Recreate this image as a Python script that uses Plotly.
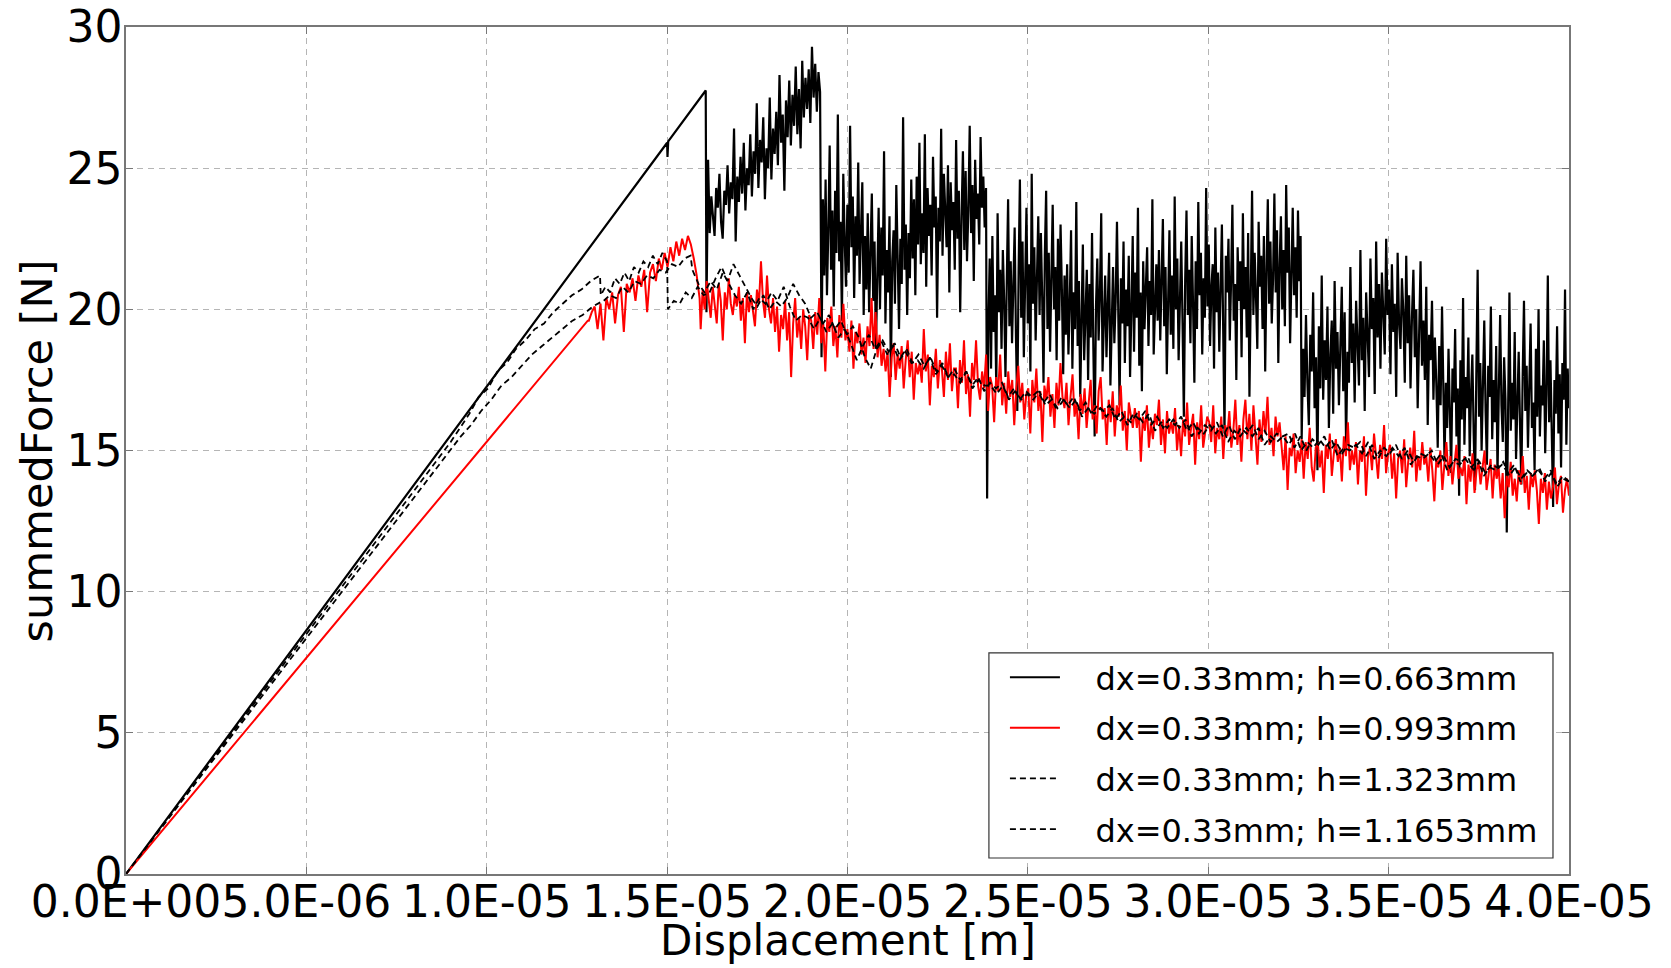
import numpy as np
import plotly.graph_objects as go

# ---------------- data ----------------
series_names = ["dx=0.33mm; h=0.663mm", "dx=0.33mm; h=0.993mm",
                "dx=0.33mm; h=1.323mm", "dx=0.33mm; h=1.1653mm"]

x_tickvals = [0, 5e-6, 1e-5, 1.5e-5, 2e-5, 2.5e-5, 3e-5, 3.5e-5, 4e-5]
x_ticktext = ["0.0E+00", "5.0E-06", "1.0E-05", "1.5E-05", "2.0E-05",
              "2.5E-05", "3.0E-05", "3.5E-05", "4.0E-05"]
y_tickvals = [0, 5, 10, 15, 20, 25, 30]

# h=0.663mm : elastic rise (displacement / force)
blk_rise_x = [0, 1.500e-5, 1.501e-5, 1.503e-5, 1.607e-5]
blk_rise_f = [0, 25.9, 25.4, 25.95, 27.75]
# noisy segments: (start displacement, end displacement) and force readings
blk_B_span = (1.609e-5, 1.924e-5)
blk_B = [19.9, 25.3, 22.7, 24.0, 23.3, 22.6, 24.3, 23.6, 24.8, 23.1, 22.5, 24.2, 23.7, 25.1,
         23.4, 24.5, 23.9, 26.4, 22.4, 24.7, 23.8, 25.4, 24.1, 25.9, 23.5, 25.0, 24.4, 26.2,
         24.0, 25.6, 24.8, 27.3, 24.3, 26.0, 25.2, 26.8, 23.9, 25.7, 25.0, 27.5, 24.6, 26.4,
         25.5, 27.0, 25.1, 28.3, 25.9, 26.9, 24.2, 27.4, 26.1, 28.1, 25.8, 27.6, 26.5, 28.6,
         26.2, 27.8, 25.7, 28.8, 26.8, 28.2, 27.1, 28.5, 26.6, 29.3, 27.5, 28.7, 27.0, 28.4,
         27.7]
blk_C_span = (1.928e-5, 2.384e-5)
blk_C = [18.3, 23.9, 21.2, 24.6, 20.5, 22.8, 25.8, 21.4, 23.5, 20.1, 24.2, 22.0, 26.9, 21.7,
         23.1, 19.6, 24.8, 22.5, 20.8, 23.7, 21.3, 26.5, 22.2, 24.0, 20.4, 23.3, 21.9, 25.2,
         20.9, 22.7, 24.5, 19.8,
         22.6, 20.7, 23.4, 19.9, 21.8, 24.1, 20.3, 22.4, 18.6, 21.5, 23.6, 20.0, 22.9, 21.2,
         25.6, 19.5, 22.1, 20.6, 23.3, 17.6, 21.7, 22.8, 20.2, 24.4, 21.0, 19.3, 22.5, 20.9,
         26.8, 21.4, 23.0, 19.8, 22.7, 21.1, 24.6,
         21.8, 23.9, 20.5, 24.7, 22.3, 25.9, 21.6, 23.4, 22.0, 26.2, 20.8, 24.3, 22.6, 23.7,
         21.2, 25.4, 22.9, 24.0, 19.7, 23.6, 22.4, 26.4, 21.9, 24.8, 23.1, 22.2, 25.1, 20.6,
         24.5, 22.8, 23.8, 21.4, 26.0, 22.5, 24.2, 19.9, 23.3, 25.6, 22.1, 24.9, 21.7, 23.5,
         26.5, 22.7, 24.4, 21.0, 25.3, 23.2, 24.1, 22.3, 26.1, 23.6, 24.7, 22.9, 24.3]
blk_D_span = (2.387e-5, 3.256e-5)
blk_D = [13.3, 19.6, 21.8, 17.9, 22.6, 19.2, 20.5, 17.2, 23.4, 19.9, 21.4, 18.6, 22.1, 20.3,
         17.6, 21.0, 23.9, 19.4, 21.7, 18.8, 20.6, 22.9, 19.0, 16.4, 21.3, 24.6, 19.7, 22.4,
         18.3, 20.9, 23.6, 19.5, 21.6, 17.8, 24.8, 20.2, 22.2, 18.9, 21.1, 23.3, 19.8, 22.7,
         20.4, 17.4, 21.9, 24.2, 19.3, 22.0, 18.5, 20.8, 23.7, 20.0, 21.5, 18.2, 22.5, 19.6,
         23.0, 20.7, 17.7, 21.2,
         19.1, 21.6, 18.4, 20.2, 22.8, 17.9, 20.6, 19.3, 23.8, 18.7, 21.0, 16.9, 20.4, 22.3,
         18.2, 19.8, 21.4, 17.5, 20.9, 19.0, 22.7, 18.6, 15.5, 20.1, 21.8, 18.9, 20.5, 23.4,
         17.8, 19.6, 21.2, 18.3, 20.8, 22.0, 17.3, 19.9, 21.5, 18.8, 20.3, 23.1, 19.2, 16.6,
         21.1, 19.5, 22.4, 18.1, 20.7, 19.4, 21.9, 17.6, 20.0, 22.6, 18.5, 21.3, 19.7, 23.6,
         18.0, 20.6, 17.1, 21.7, 19.3, 20.9, 22.2, 18.7, 21.0, 19.8, 23.9, 18.4, 20.4, 21.6,
         19.6, 22.1, 18.9, 20.7, 23.2, 19.4, 21.5, 17.7, 20.3, 22.8, 19.1, 21.2, 18.6, 24.0,
         20.0, 21.8, 18.2, 20.6, 22.4, 19.5, 16.2, 21.0, 23.5, 19.8, 21.4, 18.8, 22.6, 20.2,
         17.4, 21.7, 19.3, 23.8, 20.5, 22.0, 18.4, 21.1, 19.7, 24.3, 20.1, 22.3, 18.7, 20.8,
         21.6, 17.9, 22.9, 19.9, 21.3, 18.5, 20.4, 23.0, 19.2, 15.6, 21.9, 20.6, 22.5, 18.9,
         21.0, 23.7, 19.6, 20.9, 17.5, 22.2, 20.3, 21.7, 18.3, 23.4, 20.0, 21.5, 19.0, 22.7,
         16.9, 21.2, 24.2, 19.8, 22.0, 20.4, 18.6, 23.1, 20.8, 21.9, 19.3, 22.6, 17.8, 21.4,
         23.9, 20.2, 22.4, 19.5, 21.1, 24.1, 20.6, 22.8, 18.1, 21.6, 23.3, 20.0, 22.1, 19.4,
         24.4, 21.3, 22.9, 18.8, 21.8, 23.6, 20.5, 22.2, 19.7, 23.5, 21.0, 22.6]
blk_E_span = (3.259e-5, 3.652e-5)
blk_E = [15.4, 18.6, 16.9, 19.8, 17.4, 15.9, 19.1, 17.8, 20.6, 16.5, 18.3, 14.3, 19.4, 17.2,
         21.2, 16.8, 18.9, 17.5, 20.1, 15.8, 18.4, 19.6, 16.3, 21.0, 17.9, 19.2, 16.6, 18.7,
         20.8, 17.1, 19.9, 15.2, 18.5, 17.4, 21.5, 18.1, 19.5, 16.7, 20.3, 18.8, 17.3, 22.1,
         18.2, 19.7, 16.4, 20.6, 18.9, 17.6, 21.8, 19.3, 20.4, 17.0, 22.4, 19.0, 20.9, 17.9,
         21.3, 19.6, 18.4, 22.5, 19.8, 20.7, 17.7, 21.6, 19.2, 20.2, 16.9, 22.0, 19.5, 18.6,
         21.1, 19.9, 17.4, 21.9, 18.8, 20.5, 17.2, 19.7, 21.4, 18.3, 20.0, 16.5, 19.4, 21.7,
         18.0, 19.6, 17.5, 20.8, 15.9, 19.1, 18.2, 20.3, 16.8, 19.0, 17.4, 15.1, 18.7, 16.6,
         20.1, 17.3]
blk_F_span = (3.655e-5, 4.0e-5)
blk_F = [14.6, 17.4, 15.8, 18.6, 16.3, 14.2, 17.9, 16.7, 19.3, 15.5, 17.2, 13.4, 18.2, 16.1,
         20.4, 15.2, 17.6, 16.5, 19.0, 14.8, 17.0, 18.4, 15.6, 13.6, 17.7, 21.4, 16.2, 18.1,
         15.0, 17.3, 19.6, 16.4, 14.5, 18.0, 16.9, 20.1, 15.4, 17.5, 16.0, 18.7, 14.1, 17.1,
         19.8, 16.6, 15.3, 18.3, 16.8, 12.1, 17.8, 20.6, 15.7, 17.4, 16.1, 19.2, 14.7, 16.9,
         18.5, 15.9, 13.8, 17.6, 20.3, 16.4, 18.0, 15.1, 17.2, 19.5, 15.8, 16.7, 14.3, 18.6,
         16.2, 20.0, 15.5, 17.3, 16.6, 18.9, 14.9, 17.0, 21.2, 16.0, 18.2, 15.4, 13.0, 17.5,
         16.3, 19.4, 15.6, 17.7, 14.4, 18.1, 16.8, 20.7, 15.2, 17.9, 16.5]

# h=0.993mm (red)
red_rise_x = [0, 1.0e-5, 1.28e-5]
red_rise_f = [0, 15.3, 19.6]
red_A_span = (1.283e-5, 1.59e-5)
red_A = [19.6, 19.9, 20.1, 19.3, 20.2, 18.9, 20.4, 20.0, 20.6, 19.5, 20.5, 20.8, 19.2, 20.9,
         20.6, 21.1, 20.3, 21.2, 20.8, 21.4, 19.9, 21.3, 21.6, 21.0, 21.8, 21.4, 22.0, 21.5,
         22.2, 21.7, 22.4, 21.9, 22.5, 22.1, 22.6, 22.3, 21.8, 21.2, 20.4]
red_B_span = (1.593e-5, 4.0e-5)
red_B = [19.3, 20.7, 20.0, 21.0, 20.4, 19.7, 20.8, 20.1, 19.5, 20.9, 20.3, 18.9, 20.6, 20.0, 21.1, 20.2, 19.8, 20.5, 20.1,
         20.8, 19.6, 20.4, 18.8, 20.6, 19.9, 20.5, 20.0, 19.4, 20.7, 20.2, 21.7, 20.3, 19.7, 21.2, 20.0, 19.5, 20.4,
         19.2, 20.1, 18.5, 19.8, 19.3, 20.3, 18.9, 19.9, 17.6, 19.5, 20.4, 19.0, 19.7, 18.6, 20.0, 19.4, 18.2, 19.8,
         19.6, 18.6, 19.9, 19.1, 20.4, 18.8, 19.5, 17.8, 19.7, 19.2, 20.1, 18.7, 19.4, 18.3, 19.8, 19.0, 20.2, 18.9,
         19.3, 18.5, 19.6, 17.9, 19.2, 18.8, 19.5, 18.4, 19.0, 18.1, 19.4, 18.7, 20.4, 18.6, 19.9, 18.3, 19.1, 18.0,
         18.6, 17.8, 18.5, 16.9, 18.3, 18.8, 17.5, 18.4, 17.9, 18.7, 17.2, 18.2, 18.9, 17.6, 18.5, 16.8, 18.1, 17.7,
         18.1, 17.4, 19.3, 17.8, 18.4, 16.6, 18.0, 17.6, 18.6, 17.2, 18.2, 17.9, 16.9, 18.5, 17.5, 18.8, 17.1, 17.9,
         17.9, 16.5, 18.2, 17.4, 18.9, 17.0, 17.7, 16.2, 18.1, 17.5, 18.9, 17.3, 16.8, 17.8, 17.2, 18.4, 16.4, 17.6,
         17.3, 16.0, 17.6, 17.1, 18.4, 16.6, 17.4, 16.3, 17.8, 16.9, 17.5, 15.9, 17.2, 18.0, 16.7, 17.4, 16.1, 17.0,
         17.2, 15.6, 17.5, 16.7, 17.9, 16.4, 17.1, 15.3, 17.3, 16.8, 17.6, 16.2, 17.0, 15.8, 17.4, 16.6, 18.1, 16.9,
         16.5, 17.4, 15.9, 16.9, 17.7, 16.2, 16.7, 15.4, 17.0, 16.3, 17.2, 15.8, 16.8, 17.5, 16.1, 16.6, 15.6, 17.1,
         17.6, 16.1, 16.5, 15.2, 16.8, 16.0, 17.1, 15.5, 16.6, 16.2, 17.3, 15.7, 16.4, 15.0, 16.7, 16.3, 15.8, 16.5,
         15.8, 16.4, 14.6, 16.2, 15.7, 16.6, 15.1, 16.0, 15.4, 16.3, 15.9, 16.8, 15.2, 16.1, 14.9, 16.4, 15.6, 16.0,
         15.6, 16.5, 15.0, 15.9, 14.8, 16.1, 15.5, 16.7, 15.2, 15.8, 16.3, 14.5, 16.0, 15.4, 16.6, 15.1, 15.7, 16.2,
         16.0, 15.3, 16.6, 14.9, 15.8, 15.4, 16.2, 14.7, 15.9, 15.5, 16.4, 15.1, 15.7, 16.8, 15.2, 15.9, 14.6, 16.1,
         16.8, 15.4, 16.3, 15.0, 16.6, 15.7, 14.5, 16.1, 15.3, 16.4, 15.6, 16.9, 15.2, 15.8, 14.8, 16.2, 15.5, 16.0,
         15.2, 14.3, 15.5, 13.6, 15.1, 14.8, 15.6, 14.2, 15.0, 14.6, 15.4, 14.0, 15.3, 14.7, 15.8, 14.4, 13.9, 15.1,
         15.3, 14.4, 15.0, 13.5, 15.2, 14.7, 15.6, 14.1, 14.9, 15.4, 14.6, 15.1, 13.9, 15.5, 14.8, 16.0, 14.3, 15.0,
         14.5, 15.3, 13.8, 15.0, 14.6, 15.5, 13.4, 14.8, 15.1, 14.3, 15.6, 14.9, 14.0, 15.2, 14.7, 15.9, 14.2, 14.9,
         15.2, 14.0, 14.9, 13.3, 14.7, 15.0, 14.2, 15.4, 13.7, 14.6, 15.1, 14.4, 15.7, 13.9, 14.8, 14.3, 15.3, 14.5,
         14.8, 13.9, 15.1, 14.3, 13.2, 14.7, 14.4, 15.0, 13.6, 14.5, 15.3, 14.1, 14.8, 13.8, 14.6, 15.2, 14.0, 14.4,
         14.1, 14.8, 13.1, 14.5, 13.9, 14.9, 13.5, 14.3, 14.6, 13.8, 14.4, 15.0, 13.6, 14.2, 14.7, 13.3, 14.5, 14.0,
         14.4, 13.3, 14.2, 12.6, 14.1, 13.7, 14.6, 13.4, 14.0, 13.2, 14.3, 13.8, 14.8, 13.5, 14.1, 12.9, 14.2, 13.7,
         14.3, 13.6, 12.4, 14.0, 13.5, 14.2, 12.9, 13.9, 13.3, 13.7, 14.4, 13.1, 13.8, 14.1, 12.8, 13.6, 14.0, 13.4]

# h=1.323mm (dashed)
d1_rise_x = [0, 0.9e-5]
d1_rise_f = [0, 15.3]
d1_A_span = (0.9e-5, 1.314e-5)
d1_A = [15.3, 15.8, 16.3, 16.9, 17.2, 17.8, 18.1, 18.6, 18.9, 19.3, 19.5, 19.9, 20.2, 20.5,
        20.7, 21.0, 21.2]
d1_B_span = (1.316e-5, 1.500e-5)
d1_B = [20.5, 20.8, 20.6, 21.1, 20.9, 21.3, 21.0, 21.5, 21.3, 21.7, 21.5, 21.9, 21.6, 22.0, 21.7]
d1_C_span = (1.502e-5, 4.0e-5)
d1_C = [20.0, 20.3, 20.2, 20.6, 20.4, 20.8, 20.5,
        20.6, 21.1, 21.5, 21.0, 21.6, 21.2, 20.8,
        20.4, 20.1, 20.5, 20.0, 20.3, 20.1,
        20.4, 20.9, 20.5, 20.2, 19.7, 19.9,
        19.5, 19.8, 19.3, 19.6, 19.1, 19.4,
        19.0, 18.3, 17.9, 18.6, 18.9, 18.5,
        18.8, 18.3, 18.6, 18.1, 18.4, 18.0,
        18.3, 17.8, 18.1, 17.6, 17.9, 17.5,
        17.8, 17.3, 17.6, 17.1, 17.4, 17.2,
        17.4, 16.9, 17.2, 16.8, 17.1, 16.9,
        17.1, 16.7, 17.0, 16.5, 16.9, 16.6,
        16.9, 16.4, 16.7, 16.3, 16.6, 16.4,
        16.6, 16.1, 16.4, 15.9, 16.3, 16.1,
        16.4, 15.9, 16.2, 15.8, 16.1, 15.9,
        16.2, 15.7, 16.0, 15.6, 15.9, 15.7,
        16.0, 15.5, 15.9, 15.4, 15.8, 15.6,
        15.9, 15.4, 15.7, 15.3, 15.6, 15.5,
        15.6, 15.1, 15.5, 15.0, 15.4, 15.2,
        15.5, 15.0, 15.3, 14.9, 15.2, 15.1,
        15.3, 14.8, 15.2, 14.7, 15.1, 14.9,
        15.2, 14.7, 15.0, 14.6, 14.9, 14.8,
        15.0, 14.5, 14.8, 14.4, 14.7, 14.6,
        14.8, 14.3, 14.6, 14.2, 14.5, 14.4,
        14.6, 14.1, 14.4, 14.0, 14.3, 14.1,
        14.4, 13.9, 14.2, 13.8, 14.1, 13.9]

# h=1.1653mm (dashed)
d2_rise_x = [0, 0.9e-5]
d2_rise_f = [0, 15.0]
d2_A_span = (0.9e-5, 1.322e-5)
d2_A = [15.0, 15.5, 15.9, 16.4, 16.8, 17.3, 17.6, 18.0, 18.4, 18.7, 19.0, 19.3, 19.6, 19.8,
        20.1, 20.3]
d2_B_span = (1.324e-5, 1.565e-5)
d2_B = [20.3, 20.5, 20.4, 20.8, 20.6, 21.0, 20.9, 21.2, 21.1, 21.4, 21.3, 21.6, 21.5, 21.8, 21.9]
d2_C_span = (1.57e-5, 4.0e-5)
d2_C = [21.4, 20.9, 20.6, 21.0, 20.7, 21.3, 20.9,
        20.5, 20.2, 20.6, 20.0, 20.4, 20.2,
        20.6, 20.3, 20.8, 20.1, 19.6, 19.8,
        19.7, 19.3, 19.7, 19.2, 19.5, 19.0,
        19.3, 18.8, 18.2, 18.7, 19.1, 18.6,
        18.9, 18.4, 18.7, 18.2, 18.5, 18.1,
        18.2, 17.9, 18.3, 17.7, 18.0, 17.6,
        17.7, 17.4, 17.8, 17.2, 17.5, 17.3,
        17.3, 17.0, 17.3, 16.8, 17.1, 16.8,
        17.0, 16.8, 17.1, 16.6, 16.8, 16.5,
        16.8, 16.5, 16.8, 16.2, 16.5, 16.3,
        16.5, 16.2, 16.5, 16.0, 16.2, 16.0,
        16.3, 16.0, 16.3, 15.7, 16.0, 15.8,
        16.1, 15.8, 16.1, 15.5, 15.8, 15.6,
        15.9, 15.6, 15.9, 15.3, 15.7, 15.5,
        15.8, 15.5, 15.8, 15.2, 15.5, 15.3,
        15.5, 15.2, 15.6, 15.0, 15.3, 15.1,
        15.4, 15.1, 15.4, 14.8, 15.1, 15.0,
        15.2, 14.9, 15.3, 14.7, 15.0, 14.8,
        15.1, 14.8, 15.1, 14.5, 14.8, 14.7,
        14.9, 14.6, 14.9, 14.3, 14.6, 14.5,
        14.7, 14.4, 14.7, 14.1, 14.4, 14.3,
        14.5, 14.2, 14.5, 13.9, 14.2, 14.1,
        14.3, 14.0, 14.3, 13.7, 14.0, 13.9]


def build(rise_x, rise_f, segments):
    xs, fs = list(rise_x), list(rise_f)
    for (a, b), vals in segments:
        xs += list(np.linspace(a, b, len(vals)))
        fs += list(vals)
    return xs, fs


x_blk, f_blk = build(blk_rise_x, blk_rise_f,
                     [(blk_B_span, blk_B), (blk_C_span, blk_C), (blk_D_span, blk_D),
                      (blk_E_span, blk_E), (blk_F_span, blk_F)])
x_red, f_red = build(red_rise_x, red_rise_f, [(red_A_span, red_A), (red_B_span, red_B)])
x_d1, f_d1 = build(d1_rise_x, d1_rise_f, [(d1_A_span, d1_A), (d1_B_span, d1_B), (d1_C_span, d1_C)])
x_d2, f_d2 = build(d2_rise_x, d2_rise_f, [(d2_A_span, d2_A), (d2_B_span, d2_B), (d2_C_span, d2_C)])

FONT = "DejaVu Sans"
NB = "\u00a0\u00a0\u00a0"   # gap between legend sample and label
fig = go.Figure()
styles = [dict(color="black", width=2.2, dash="solid"),
          dict(color="red", width=2, dash="solid"),
          dict(color="black", width=1.8, dash="6px,4px"),
          dict(color="black", width=1.8, dash="6px,4px")]
for i, (xs, fs) in enumerate([(x_blk, f_blk), (x_red, f_red), (x_d1, f_d1), (x_d2, f_d2)]):
    fig.add_trace(go.Scatter(x=xs, y=fs, mode="lines", name=NB + series_names[i],
                             legendgroup=f"g{i}", line=styles[i]))

axis_common = dict(showline=True, linecolor="#777777", linewidth=1.5, mirror="ticks",
                   ticks="inside", ticklen=7, tickcolor="#777777", automargin=False,
                   showgrid=True, gridcolor="#b5b5b5", griddash="6px,5px", gridwidth=1,
                   zeroline=False, tickfont=dict(family=FONT, size=44, color="black"))

# legend frame (decoration behind the legend)
box_x0, box_x1, box_y0, box_y1 = 0.598, 0.9889, 0.0189, 0.261

fig.update_layout(
    width=1671, height=968,
    margin=dict(l=126, r=102, t=27, b=94, autoexpand=False),
    paper_bgcolor="white", plot_bgcolor="white",
    showlegend=True,
    legend=dict(x=0.6091, y=0.2645, xanchor="left", yanchor="top",
                bgcolor="rgba(0,0,0,0)", borderwidth=0,
                font=dict(family=FONT, size=32, color="black"),
                traceorder="grouped", tracegroupgap=6,
                itemwidth=50),
    xaxis=dict(range=[0, 4e-5], tickvals=x_tickvals, ticktext=x_ticktext, tickangle=0,
               ticklabelstandoff=-12, **axis_common),
    yaxis=dict(range=[0, 30], tickvals=y_tickvals, ticklabelstandoff=-7, **axis_common),
    shapes=[dict(type="rect", xref="paper", yref="paper", x0=box_x0, x1=box_x1,
                 y0=box_y0, y1=box_y1, fillcolor="white", layer="above",
                 line=dict(color="#333333", width=1.2))],
    annotations=[
        dict(text="Displacement [m]", xref="paper", yref="paper", x=0.5, y=-0.078,
             xanchor="center", yanchor="middle", showarrow=False,
             font=dict(family=FONT, size=42, color="black")),
        dict(text="summedForce [N]", xref="paper", yref="paper", x=-0.0617, y=0.5,
             xanchor="center", yanchor="middle", textangle=-90, showarrow=False,
             font=dict(family=FONT, size=43, color="black")),
    ],
)

fig.write_html("out.html")
